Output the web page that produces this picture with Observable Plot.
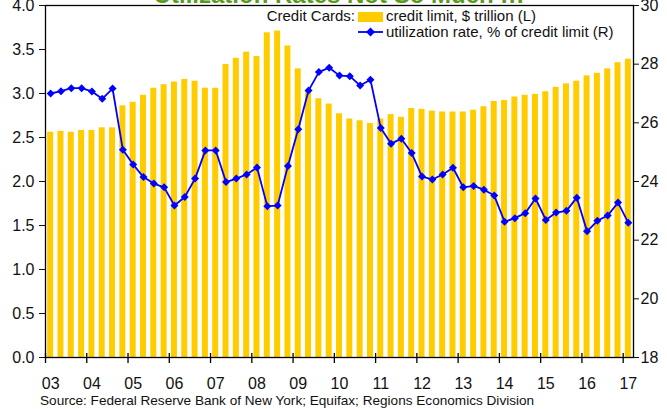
<!DOCTYPE html>
<html><head><meta charset="utf-8">
<script src="https://cdn.jsdelivr.net/npm/d3@7"></script>
<script src="https://cdn.jsdelivr.net/npm/@observablehq/plot@0.6"></script>
<style>
body{margin:0;background:#fff;font-family:"Liberation Sans",Arial,sans-serif;}
#wrap{position:relative;width:667px;height:409px;overflow:hidden;background:#fff;}
#wrap svg.plotsvg{position:absolute;left:0;top:0;}
.abs{position:absolute;white-space:nowrap;color:#111;}
#title{left:45px;width:588px;top:-17px;text-align:center;font:bold 24px "Liberation Sans",Arial,sans-serif;line-height:24px;color:#5a9a1a;}
.leg{font-size:15px;line-height:17px;}
#caption{left:40px;top:393px;font-size:13.6px;line-height:15px;color:#111;}
</style></head><body><div id="wrap"></div>
<script>
// ---- data ----
const quarters = [
 "2003Q1","2003Q2","2003Q3","2003Q4","2004Q1","2004Q2","2004Q3","2004Q4",
 "2005Q1","2005Q2","2005Q3","2005Q4","2006Q1","2006Q2","2006Q3","2006Q4",
 "2007Q1","2007Q2","2007Q3","2007Q4","2008Q1","2008Q2","2008Q3","2008Q4",
 "2009Q1","2009Q2","2009Q3","2009Q4","2010Q1","2010Q2","2010Q3","2010Q4",
 "2011Q1","2011Q2","2011Q3","2011Q4","2012Q1","2012Q2","2012Q3","2012Q4",
 "2013Q1","2013Q2","2013Q3","2013Q4","2014Q1","2014Q2","2014Q3","2014Q4",
 "2015Q1","2015Q2","2015Q3","2015Q4","2016Q1","2016Q2","2016Q3","2016Q4",
 "2017Q1"];
// credit limit, $ trillion (left axis)
const creditLimit = [
 2.56,2.57,2.56,2.58,2.58,2.61,2.61,2.86,
 2.90,2.98,3.06,3.10,3.13,3.16,3.14,3.06,
 3.06,3.33,3.40,3.47,3.42,3.69,3.71,3.54,
 3.28,3.02,2.94,2.88,2.77,2.71,2.69,2.66,
 2.71,2.76,2.73,2.83,2.82,2.80,2.79,2.79,
 2.79,2.81,2.85,2.91,2.92,2.96,2.98,2.99,
 3.02,3.07,3.11,3.14,3.20,3.23,3.28,3.35,
 3.39];
// utilization rate, % of credit limit (right axis)
const utilization = [
 27.00,27.08,27.18,27.18,27.07,26.82,27.17,25.08,
 24.58,24.15,23.93,23.80,23.18,23.47,24.10,25.06,
 25.06,23.98,24.10,24.24,24.48,23.16,23.18,24.53,
 25.78,27.10,27.73,27.88,27.61,27.59,27.27,27.47,
 25.82,25.29,25.46,24.97,24.17,24.07,24.24,24.47,
 23.80,23.85,23.72,23.52,22.63,22.75,22.92,23.42,
 22.69,22.94,23.00,23.45,22.30,22.66,22.84,23.28,
 22.59];
const yearLabels = ["03","04","05","06","07","08","09","10","11","12","13","14","15","16","17"];
const leftTicks = [0,0.5,1,1.5,2,2.5,3,3.5,4];
const rightTicks = [18,20,22,24,26,28,30];
const titleText = "Utilization Rates Not So Much !!!";
const legendTitle = "Credit Cards:";
const seriesNames = ["credit limit, $ trillion (L)","utilization rate, % of credit limit (R)"];
const sourceText = "Source: Federal Reserve Bank of New York; Equifax; Regions Economics Division";

// ---- build ----
const data = quarters.map((q,i)=>({q, i, limit: creditLimit[i], util: utilization[i]}));
const rMin = 18, rMax = 30, lMax = 4;
const toLeft = u => (u - rMin) / (rMax - rMin) * lMax;

const chart = Plot.plot({
  width: 667, height: 390,
  marginTop: 5, marginBottom: 33, marginLeft: 45, marginRight: 34,
  style: {fontFamily: "Liberation Sans, Arial, sans-serif", fontSize: "16px", color: "#111", background: "transparent", overflow: "visible"},
  x: {type: "linear", domain: [0, quarters.length]},
  y: {domain: [0, lMax]},
  marks: [
    Plot.rectY(data, {x1: d => d.i + 0.21, x2: d => d.i + 0.79, y: "limit", fill: "#FFCC00"}),
    Plot.line(data, {x: d => d.i + 0.5, y: d => toLeft(d.util), stroke: "#0000FF", strokeWidth: 1.8}),
    Plot.dot(data, {x: d => d.i + 0.5, y: d => toLeft(d.util), symbol: "diamond2", r: 3.6, fill: "#0000FF", stroke: null}),
    Plot.axisY({anchor: "left", ticks: leftTicks, tickFormat: d3.format(".1f"), tickSize: 6, tickPadding: 5, label: null}),
    Plot.axisY({anchor: "right", ticks: rightTicks.map(toLeft), tickFormat: v => String(Math.round(v / lMax * (rMax - rMin) + rMin)), tickSize: 5, tickPadding: 2, label: null}),
    Plot.axisX({ticks: yearLabels.map((_, k) => 4 * k + 0.5), tickFormat: v => yearLabels[Math.round((v - 0.5) / 4)], tickSize: 0, tickPadding: 20, label: null}),
    Plot.ruleX(yearLabels.map((_, k) => 4 * k), {insetTop: 348, insetBottom: -6, stroke: "#000", strokeWidth: 1.3}),
    Plot.frame({stroke: "#000", strokeWidth: 1.3})
  ]
});
chart.classList.add("plotsvg");
const wrap = document.getElementById("wrap");
wrap.appendChild(chart);

function addDiv(id, cls, text, css){
  const d = document.createElement("div");
  if (id) d.id = id;
  d.className = "abs " + (cls||"");
  d.textContent = text;
  Object.assign(d.style, css||{});
  wrap.appendChild(d);
  return d;
}
addDiv("title", "", titleText);
addDiv(null, "leg", legendTitle, {right: (667-355)+"px", top: "7px"});
const sw = document.createElement("div");
Object.assign(sw.style, {position:"absolute", left:"358px", top:"12px", width:"25px", height:"10px", background:"#FFCC00"});
wrap.appendChild(sw);
addDiv(null, "leg", seriesNames[0], {left: "386px", top: "7px"});
const ls = document.createElementNS("http://www.w3.org/2000/svg","svg");
ls.setAttribute("width","27"); ls.setAttribute("height","12");
Object.assign(ls.style, {position:"absolute", left:"357px", top:"26px"});
ls.innerHTML = '<line x1="1" y1="6" x2="26" y2="6" stroke="#0000FF" stroke-width="1.8"/><path d="M13.5,1.5L18,6L13.5,10.5L9,6Z" fill="#0000FF"/>';
wrap.appendChild(ls);
addDiv(null, "leg", seriesNames[1], {left: "386px", top: "23px"});
addDiv("caption", "", sourceText);
</script>
</body></html>
